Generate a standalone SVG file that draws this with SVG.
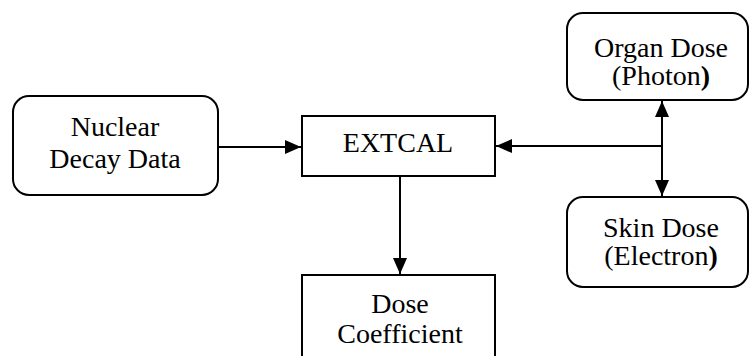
<svg xmlns="http://www.w3.org/2000/svg" width="749" height="356" viewBox="0 0 749 356">
<style>
.box{fill:#fff;stroke:#000;stroke-width:2}
.t{font-family:'Liberation Serif',serif;font-size:28px;fill:#000;text-anchor:middle}
.ln{fill:none;stroke:#000;stroke-width:2}
</style>
<defs>
<marker id="ah2" markerWidth="16" markerHeight="14" viewBox="0 0 16 14" refX="16" refY="7" orient="auto" markerUnits="userSpaceOnUse">
<path d="M0,0 L16,7 L0,14 z" fill="#000"/>
</marker>
</defs>
<g id="connectors">
<line class="ln" x1="218" y1="147" x2="301" y2="147" marker-end="url(#ah2)"/>
<line class="ln" x1="662" y1="146" x2="496" y2="146" marker-end="url(#ah2)"/>
<line class="ln" x1="662" y1="146" x2="662" y2="101" marker-end="url(#ah2)"/>
<line class="ln" x1="662" y1="146" x2="662" y2="196" marker-end="url(#ah2)"/>
<line class="ln" x1="400" y1="176" x2="400" y2="274" marker-end="url(#ah2)"/>
</g>
<g id="nuclear">
<rect class="box" x="13" y="96" width="205" height="99" rx="16"/>
<text class="t" x="115" y="136">Nuclear</text>
<text class="t" x="115" y="168">Decay Data</text>
</g>
<g id="extcal">
<rect class="box" x="302" y="116" width="193" height="60"/>
<text class="t" x="398" y="152">EXTCAL</text>
</g>
<g id="organ">
<rect class="box" x="567" y="13" width="181" height="87" rx="16"/>
<text class="t" x="661" y="57">Organ Dose</text>
<text class="t" x="661" y="85">(Photon<tspan font-weight="bold">)</tspan></text>
</g>
<g id="skin">
<rect class="box" x="567" y="197" width="181" height="90" rx="16"/>
<text class="t" x="661" y="237">Skin Dose</text>
<text class="t" x="661" y="265">(Electron<tspan font-weight="bold">)</tspan></text>
</g>
<g id="dose">
<rect class="box" x="302" y="275" width="193" height="90"/>
<text class="t" x="400" y="313">Dose</text>
<text class="t" x="400" y="343">Coefficient</text>
</g>
</svg>
